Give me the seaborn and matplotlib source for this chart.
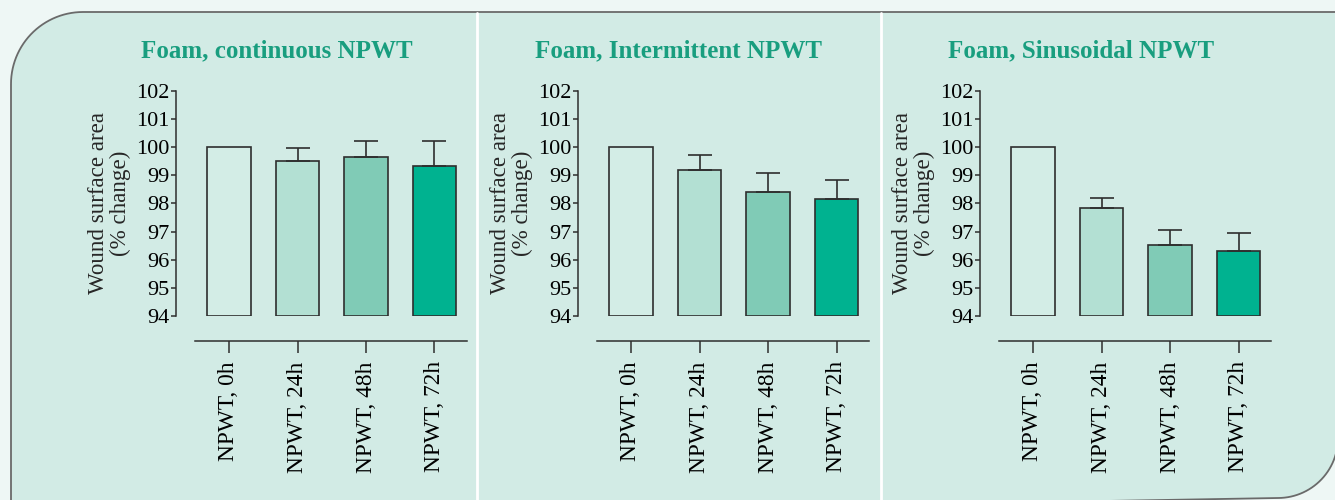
import numpy as np
import pandas as pd
import matplotlib
matplotlib.use("Agg")
import matplotlib.pyplot as plt
from matplotlib.path import Path
from matplotlib.patches import PathPatch
import seaborn as sns

# ---- data ----
categories = ["NPWT, 0h", "NPWT, 24h", "NPWT, 48h", "NPWT, 72h"]
titles = ["Foam, continuous NPWT", "Foam, Intermittent NPWT", "Foam, Sinusoidal NPWT"]
continuous_mean = [100.0, 99.52, 99.65, 99.33]
continuous_err = [0.0, 0.45, 0.57, 0.89]
intermittent_mean = [100.0, 99.18, 98.40, 98.16]
intermittent_err = [0.0, 0.53, 0.67, 0.67]
sinusoidal_mean = [100.0, 97.84, 96.52, 96.31]
sinusoidal_err = [0.0, 0.37, 0.55, 0.64]
y_ticks = [94, 95, 96, 97, 98, 99, 100, 101, 102]
y_label = "Wound surface area\n(% change)"

means = [continuous_mean, intermittent_mean, sinusoidal_mean]
errs = [continuous_err, intermittent_err, sinusoidal_err]

bar_colors = ["#d3ede6", "#b3e0d3", "#80cbb6", "#00b290"]
edge_col = "#2e2e2e"
title_col = "#199e7f"
bg_in = "#d2ebe5"
bg_out = "#eef7f5"

sns.set_theme(style="white")
plt.rcParams["font.family"] = ["Liberation Serif", "DejaVu Serif"]

W, H = 1335, 500
fig = plt.figure(figsize=(W / 100, H / 100), dpi=100)
fig.patch.set_facecolor(bg_out)

# background decoration axes (pixel coordinates)
bg = fig.add_axes([0, 0, 1, 1], zorder=-10)
bg.set_xlim(0, W)
bg.set_ylim(H, 0)
bg.axis("off")

def arc(cx, cy, r, a0, a1, n=30):
    t = np.radians(np.linspace(a0, a1, n))
    return list(zip(cx + r * np.cos(t), cy + r * np.sin(t)))

r1, r2 = 72, 60
left, top, right, bottom = 11, 12, 1338, 498
pts = []
pts += arc(left + r1, top + r1, r1, 180, 270)          # top-left corner
pts += [(right, top)]
pts += [(right, bottom - r2)]
pts += arc(right - r2, bottom - r2, r2, 0, 90)          # bottom-right corner
pts += [(left, H + 20)]
pts += [pts[0]]
bg.add_patch(PathPatch(Path(pts), facecolor=bg_in, edgecolor="#6a6a6a", lw=1.3))
for sx in [477, 881]:
    bg.plot([sx, sx], [top + 1, H], color="white", lw=2)

# panel axes
ax_lefts = [176, 578, 980]
ax_w, ax_top, ax_bot = 291, 91, 316
unit = 68.5
x0 = -53 / unit
x1 = (ax_w - 53) / unit

for i in range(3):
    ax = fig.add_axes([ax_lefts[i] / W, 1 - ax_bot / H, ax_w / W, (ax_bot - ax_top) / H])
    ax.set_facecolor("none")
    df = pd.DataFrame({"cat": categories, "val": means[i]})
    sns.barplot(data=df, x="cat", y="val", hue="cat", palette=bar_colors,
                width=0.64, edgecolor=edge_col, linewidth=1.2, legend=False,
                ax=ax, errorbar=None, saturation=1)
    for p in ax.patches:
        h = p.get_height()
        p.set_y(94)
        p.set_height(h - 94)
    e = np.array(errs[i])
    xs = np.arange(len(categories))
    m = np.array(means[i])
    mask = e > 0
    ax.errorbar(xs[mask], m[mask], yerr=[np.zeros(mask.sum()), e[mask]],
                fmt="none", ecolor=edge_col, elinewidth=1.2, capsize=8.3,
                capthick=1.2, zorder=1)
    ax.set_ylim(94, 102)
    ax.set_xlim(x0, x1)
    ax.set_yticks(y_ticks)
    ax.set_yticklabels([str(t) for t in y_ticks])
    for s in ["top", "right"]:
        ax.spines[s].set_visible(False)
    ax.spines["left"].set_color(edge_col)
    ax.spines["left"].set_linewidth(1.1)
    ax.spines["left"].set_bounds(94, 102)
    ax.spines["bottom"].set_color(edge_col)
    ax.spines["bottom"].set_linewidth(1.1)
    ax.spines["bottom"].set_position(("outward", 18))
    ax.spines["bottom"].set_bounds(-0.5, x1)
    ax.tick_params(axis="y", direction="out", length=3.6, width=1.1, pad=1,
                   color=edge_col, labelsize=16, labelcolor="black", left=True)
    ax.tick_params(axis="x", direction="out", length=8.6, width=1.1, pad=6,
                   color=edge_col, labelsize=16.8, labelcolor="black", bottom=True)
    ax.set_xticks(xs)
    ax.set_xticklabels(categories, rotation=90, ha="center", va="top")
    ax.set_xlabel("")
    ax.set_ylabel(y_label, fontsize=16.6, labelpad=4, linespacing=1.0)
    ax.text(0.347, 1.151, titles[i], transform=ax.transAxes, ha="center",
            va="baseline", fontsize=18, fontweight="bold", color=title_col)

fig.savefig("out.png", dpi=100, facecolor=fig.get_facecolor())
